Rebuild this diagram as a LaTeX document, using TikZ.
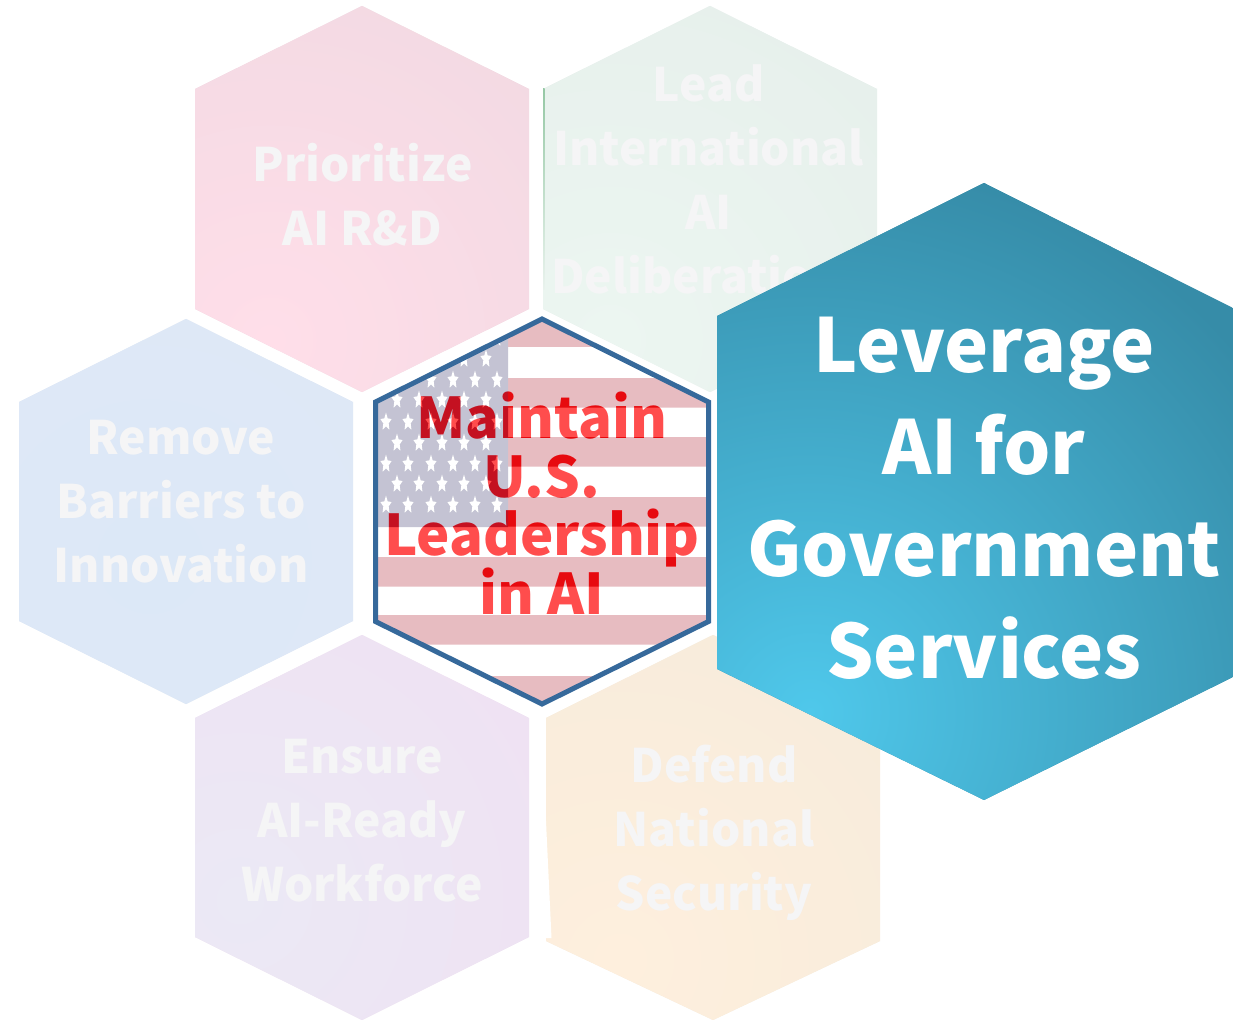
\documentclass[tikz,border=0pt]{standalone}
\usepackage{fontspec}
\newfontfamily\hexfont{Noto Sans CJK JP}
\definecolor{softtext}{HTML}{F5F5F6}
\definecolor{flagred}{HTML}{B22234}
\definecolor{flagblue}{HTML}{3C3B6E}
\definecolor{hexline}{HTML}{36699B}
\tikzset{
  softlabel/.style={anchor=south,inner sep=0pt,text depth=0pt,align=center,text=softtext,
    font=\hexfont\bfseries\fontsize{34.6}{48}\selectfont},
  mainlabel/.style={anchor=south,inner sep=0pt,text depth=0pt,align=center,text=red,
    font=\hexfont\bfseries\fontsize{42.1}{44.1}\selectfont},
  bigLabel/.style={anchor=south,inner sep=0pt,text depth=0pt,align=center,text=white,
    font=\hexfont\bfseries\fontsize{55.85}{76.5}\selectfont},
}
% left, centre, right, top, upper shoulder, lower shoulder, bottom, glow x, glow y
\newcommand{\softhex}[9]{%
  \begin{scope}
    \clip (#1,#5) -- (#2,#4) -- (#3,#5) -- (#3,#6) -- (#2,#7) -- (#1,#6) -- cycle;
    \fill[softout] (#1,#4) rectangle (#3,#7);
    \shade[inner color=softin,outer color=softout] (#8,#9) circle (430);
  \end{scope}}
\newcommand{\flagstar}[2]{%
  \fill[white] plot[samples at={0,...,9}] ({#1+0.62*(7+2.5*cos(180*\x))*cos(90+36*\x)},{#2-(7+2.5*cos(180*\x))*sin(90+36*\x)}) -- cycle;}
\begin{document}
\begin{tikzpicture}[x=0.75pt,y=-0.75pt]
\useasboundingbox (0,0) rectangle (1233,1020);
\fill[white] (0,0) rectangle (1233,1020);

% Prioritize
\definecolor{softin}{RGB}{255,222,233}\definecolor{softout}{RGB}{241,217,226}
\softhex{195}{362}{529}{6}{89}{309}{392}{270}{340}
% Lead
\definecolor{softin}{RGB}{236,246,241}\definecolor{softout}{RGB}{230,239,235}
\softhex{543}{710}{877}{6}{89}{309}{392}{610}{340}
\shade[top color={rgb,255:red,150;green,200;blue,165},bottom color={rgb,255:red,234;green,243;blue,238}] (543,89) rectangle (544.5,290);
% Remove
\definecolor{softin}{RGB}{220,232,247}\definecolor{softout}{RGB}{224,232,246}
\softhex{19}{186}{353}{319}{402}{621}{704}{150}{560}
% Ensure
\definecolor{softin}{RGB}{235,233,245}\definecolor{softout}{RGB}{240,224,242}
\softhex{195}{362}{529}{635}{718}{937}{1020}{240}{900}
% Defend
\definecolor{softin}{RGB}{254,239,221}\definecolor{softout}{RGB}{246,235,219}
\softhex{546}{713}{880}{635}{718}{941}{1020}{620}{960}
\fill[white] (545,800) -- (551.5,938) -- (545,938) -- cycle;

\node[softlabel] (prioritize) at (362.5,246) {Prioritize\\AI R\&D};
\node[softlabel] (lead) at (708.5,294) {Lead\\International\\AI\\Deliberations};
\node[softlabel] (remove) at (181,583) {Remove\\Barriers to\\Innovation};
\node[softlabel] (ensure) at (362,902) {Ensure\\AI-Ready\\Workforce};
\node[softlabel] (defend) at (714,911) {Defend\\National\\Security};

% Centre: text under a translucent flag
\begin{scope}
  \clip (375.5,402) -- (542,319) -- (708.5,402) -- (708.5,621.5) -- (542,704) -- (375.5,621.5) -- cycle;
  \fill[white] (370,315) rectangle (715,710);
  \node[mainlabel] (maintain) at (542,615) {Maintain\\U.S.\\Leadership\\in AI};
  \begin{scope}[transparency group,opacity=0.3]
    \fill[white] (370,315) rectangle (715,710);
    \foreach \s in {378,437,497,557,615,676}{\fill[flagred] (370,\s) rectangle (715,\s+29.7);}
    \fill[flagred] (370,315) rectangle (715,347);
    \fill[flagblue] (370,315) rectangle (508,527);
    \foreach \r in {338,380,422,464,505}{\foreach \c in {386,408,431,453,475,497}{\flagstar{\c}{\r}}}
    \foreach \r in {359,400,443,484}{\foreach \c in {397,419,442,464,486}{\flagstar{\c}{\r}}}
  \end{scope}
\end{scope}
\draw[hexline,line width=3.75pt,line join=miter] (375.5,402) -- (542,319) -- (708.5,402) -- (708.5,621.5) -- (542,704) -- (375.5,621.5) -- cycle;

% Leverage
\begin{scope}
  \clip (717,316) -- (984,183) -- (1233,308) -- (1233,677) -- (984,800) -- (717,669) -- cycle;
  \definecolor{softout}{RGB}{54,140,168}
  \fill[softout] (717,183) rectangle (1233,800);
  \shade[inner color={rgb,255:red,79;green,200;blue,235},outer color=softout] (810,712) circle (560);
\end{scope}
\node[bigLabel] (leverage) at (984,678.5) {Leverage\\AI for\\Government\\Services};
\end{tikzpicture}
\end{document}
